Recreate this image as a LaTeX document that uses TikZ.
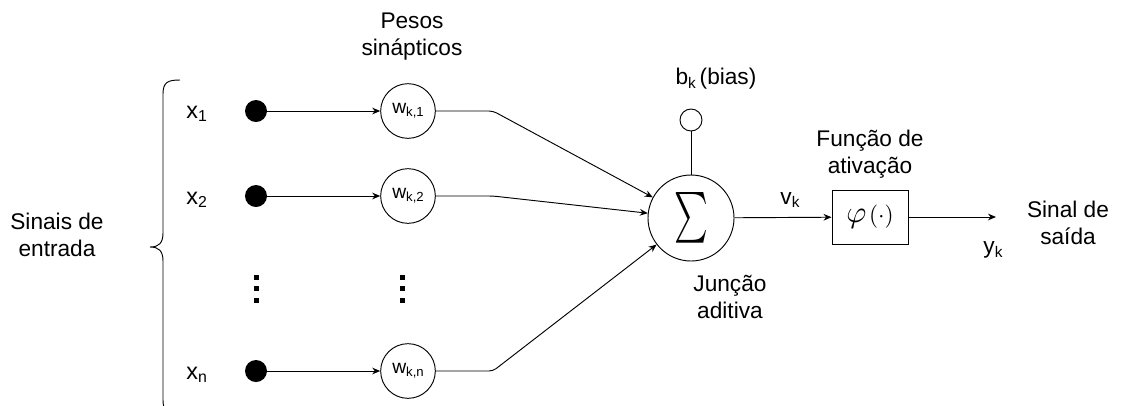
\documentclass[tikz,border=0pt]{standalone}
\usepackage{fontspec}
\setmainfont{Liberation Sans}
\usetikzlibrary{arrows.meta}
% small lowered index, as used in the labels
\newcommand{\lsub}[1]{\raisebox{-0.16em}{\scalebox{0.68}{#1}}}
\begin{document}
\begin{tikzpicture}[x=0.75pt,y=-0.75pt,
  line width=0.7pt,
  txt/.style={font=\fontsize{17}{20.25}\selectfont, align=center, inner sep=0pt},
  inlabel/.style={font=\fontsize{17.5}{20.25}\selectfont, inner sep=0pt, anchor=base west},
  dotnode/.style={circle, fill=black, draw=none, minimum size=16.5pt, inner sep=0pt},
  wnode/.style={circle, draw, minimum size=41pt, inner sep=0pt, font=\fontsize{14.5}{16}\selectfont},
  sumnode/.style={circle, draw, minimum size=64.5pt, inner sep=0pt},
  biasnode/.style={circle, draw, minimum size=16.5pt, inner sep=0pt},
  phibox/.style={rectangle, draw, minimum width=57pt, minimum height=40.5pt, inner sep=0pt},
  arr/.style={-{Stealth[length=6pt,width=5pt]}},
  elbow/.style={rounded corners=3pt}]
\clip (0,0) rectangle (1122,405);

% brace grouping the input signals
\draw (180,80) .. controls (168,80) and (163,82) .. (163,94) -- (163,233)
  .. controls (163,243) and (159,247) .. (150,247)
  .. controls (159,247) and (163,251) .. (163,261) -- (163,400)
  .. controls (163,412) and (168,414) .. (180,414);
\node[txt] (sinais) at (57,235) {Sinais de\\entrada};

% input labels
\node[inlabel] (lx1) at (186,118) {x\lsub{1}};
\node[inlabel] (lx2) at (186,204) {x\lsub{2}};
\node[inlabel] (lxn) at (186,379) {x\lsub{n}};

% input terminals
\node[dotnode] (d1) at (256,111) {};
\node[dotnode] (d2) at (256,196) {};
\node[dotnode] (dn) at (256,371) {};

% synaptic weights
\node[txt] (pesos) at (412,37) {Pesos\\sinápticos};
\node[wnode] (w1) at (408,111) {w\lsub{k,1}};
\node[wnode] (w2) at (408,196) {w\lsub{k,2}};
\node[wnode] (wn) at (408,371) {w\lsub{k,n}};

% vertical ellipses
\foreach \xx in {256,402}{
  \foreach \yy in {277,288.5,300}{
    \fill (\xx-2.5,\yy-2.5) rectangle (\xx+2.5,\yy+2.5);
  }
}

\draw[arr] (d1) -- (w1);
\draw[arr] (d2) -- (w2);
\draw[arr] (dn) -- (wn);

% summing junction
\node[sumnode] (sum) at (691,218) {\scalebox{2.4}[3.8]{$\textstyle\sum$}};
\node[biasnode] (bias) at (691,120) {};
\node[txt] (lbias) at (716,79) {b\lsub{k}\,(bias)};
\node[txt] (juncao) at (730,297) {Junção\\aditiva};
\draw (bias) -- (sum);

\coordinate (c1) at (493,111);
\coordinate (c2) at (493,196);
\coordinate (cn) at (493,371);
\draw[arr,elbow] (w1) -- (c1) -- (sum);
\draw[arr,elbow] (w2) -- (c2) -- (sum);
\draw[arr,elbow] (wn) -- (cn) -- (sum);

% activation function
\node[phibox] (phi) at (870,217) {\scalebox{2.3}{$\varphi$}\kern2pt\scalebox{1.75}{$(\cdot)$}};
\node[txt] (funcao) at (870,154) {Função de\\ativação};
\node[txt] (lv) at (790,200) {v\lsub{k}};
\draw[arr] (sum) -- (phi);

% output
\coordinate (out) at (996,217);
\draw[arr] (phi) -- (out);
\node[txt] (ly) at (993,250) {y\lsub{k}};
\node[txt] (saida) at (1068,223) {Sinal de\\saída};
\end{tikzpicture}
\end{document}
